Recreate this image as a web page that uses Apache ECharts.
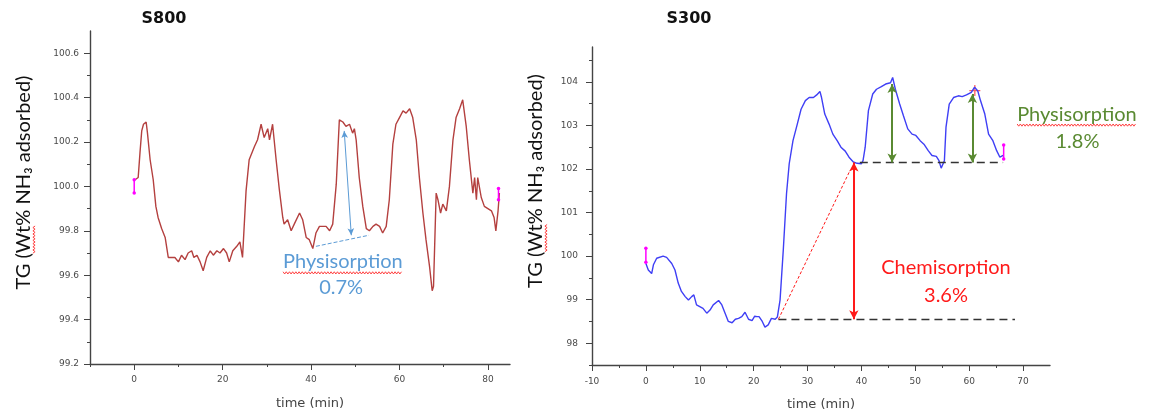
<!DOCTYPE html>
<html>
<head>
<meta charset="utf-8">
<script src="https://cdn.jsdelivr.net/npm/echarts@6/dist/echarts.min.js"></script>
<style>
  html, body { margin: 0; padding: 0; background: #fff; }
  #chart { width: 1156px; height: 419px; }
</style>
</head>
<body>
<div id="chart"></div>
<script>
// ---- data -----------------------------------------------------------------
// S800 weight trace: [time (min), TG (wt%)]
const s800Trace = [
  [0.2,100.03],[0.9,100.04],[1.3,100.15],[1.7,100.25],[2.1,100.28],[2.7,100.29],[3.0,100.24],
  [3.6,100.12],[4.3,100.03],[4.9,99.91],[5.4,99.86],[6.2,99.81],[7.0,99.77],[7.7,99.68],
  [8.5,99.68],[9.2,99.68],[10.0,99.66],[10.7,99.69],[11.5,99.67],[12.2,99.70],[13.0,99.71],
  [13.5,99.68],[14.2,99.69],[14.9,99.66],[15.6,99.62],[16.4,99.68],[17.2,99.71],[17.9,99.69],
  [18.7,99.71],[19.4,99.70],[20.2,99.72],[20.9,99.70],[21.5,99.66],[22.3,99.71],[23.2,99.73],
  [23.9,99.75],[24.5,99.68],[25.3,99.98],[26.0,100.12],[27.2,100.18],[27.9,100.21],[28.7,100.28],
  [29.4,100.22],[30.2,100.26],[30.6,100.21],[31.3,100.28],[32.1,100.12],[32.8,99.99],[33.6,99.86],
  [33.9,99.83],[34.7,99.85],[35.5,99.80],[36.2,99.83],[37.4,99.88],[38.1,99.85],[38.9,99.77],
  [39.6,99.76],[40.4,99.72],[41.1,99.79],[41.9,99.82],[42.6,99.82],[43.4,99.82],[44.2,99.80],
  [44.9,99.83],[45.7,100.01],[46.4,100.30],[47.2,100.29],[47.9,100.27],[48.7,100.28],[49.4,100.24],
  [49.8,100.26],[50.2,100.21],[50.9,100.04],[51.7,99.91],[52.5,99.81],[53.2,99.80],[54.0,99.82],
  [54.7,99.83],[55.5,99.82],[56.2,99.79],[57.0,99.82],[57.7,99.94],[58.5,100.19],[59.2,100.28],
  [60.0,100.31],[60.8,100.34],[61.5,100.33],[62.3,100.35],[63.0,100.31],[63.8,100.21],[64.5,100.04],
  [65.3,99.88],[66.0,99.76],[66.8,99.64],[67.4,99.53],[67.7,99.55],[68.3,99.97],[68.7,99.94],
  [69.3,99.88],[69.8,99.92],[70.6,99.89],[71.3,100.00],[72.1,100.21],[72.8,100.31],[73.6,100.35],
  [74.3,100.39],[75.1,100.27],[75.8,100.12],[76.6,99.97],[77.0,100.04],[77.4,99.94],[77.7,100.04],
  [78.5,99.95],[79.2,99.91],[80.0,99.90],[80.8,99.89],[81.4,99.86],[81.8,99.80],[82.3,99.89],
  [82.6,99.97]
];
// S800 start / end brackets
const s800Start = [[0, 100.03], [0, 99.97]];
const s800End = [[82.4, 99.99], [82.4, 99.94]];
// S800 physisorption arrow and its reference line
const s800PhysArrow = [[47.5, 100.25], [49.1, 99.78]];
const s800PhysBase = [[41.1, 99.73], [53.1, 99.78]];

// S300 weight trace: [time (min), TG (wt%)]
const s300Trace = [
  [0.0,99.83],[0.45,99.68],[1.07,99.60],[1.4,99.80],[2.0,99.95],[3.2,100.00],[3.85,99.97],
  [4.8,99.83],[5.4,99.68],[6.0,99.38],[6.6,99.19],[7.3,99.07],[7.9,98.99],[8.5,99.07],[8.9,99.11],
  [9.4,98.88],[10.0,98.84],[10.6,98.80],[11.3,98.69],[11.9,98.76],[12.5,98.88],[13.5,98.98],
  [14.1,98.88],[14.7,98.69],[15.3,98.50],[16.0,98.47],[16.6,98.55],[17.2,98.57],[17.8,98.61],
  [18.4,98.71],[19.05,98.55],[19.7,98.52],[20.2,98.62],[20.6,98.61],[21.0,98.61],[21.6,98.50],
  [22.1,98.37],[22.7,98.42],[23.3,98.57],[24.0,98.55],[24.4,98.60],[24.9,98.99],[25.5,100.14],
  [26.1,101.43],[26.6,102.12],[27.3,102.65],[28.1,103.03],[28.8,103.37],[29.6,103.57],[30.3,103.64],
  [31.1,103.64],[31.7,103.70],[32.3,103.78],[32.6,103.64],[33.2,103.26],[34.0,103.03],[34.7,102.80],
  [35.5,102.65],[36.2,102.50],[37.0,102.41],[37.7,102.27],[38.5,102.16],[39.2,102.13],[40.0,102.12],
  [40.3,102.19],[40.7,102.50],[41.3,103.34],[42.1,103.72],[42.8,103.83],[43.7,103.89],[44.5,103.95],
  [45.4,103.98],[45.8,104.10],[46.3,103.83],[47.1,103.49],[47.8,103.22],[48.6,102.92],[49.4,102.80],
  [50.1,102.77],[50.9,102.65],[51.6,102.57],[52.4,102.42],[53.1,102.31],[53.9,102.29],[54.4,102.19],
  [54.8,102.02],[55.4,102.19],[55.7,102.96],[56.3,103.49],[57.1,103.64],[58.0,103.68],[58.7,103.66],
  [59.5,103.70],[60.4,103.76],[61.0,103.88],[61.6,103.79],[62.1,103.57],[62.9,103.26],[63.6,102.80],
  [64.4,102.65],[65.1,102.42],[65.7,102.27],[66.3,102.31]
];
const s300Start = [[0, 100.18], [0, 99.86]];
const s300End = [[66.4, 102.55], [66.4, 102.23]];
const s300Cursor = [[61.05, 103.8]];

// S300 uptake levels (wt%)
const s300Baseline = 98.55;
const s300ChemGain = 3.6;
const s300PhysGain = 1.8;
const s300SecondPeak = 103.72;
// times where the uptake arrows are drawn (min)
const s300ChemTime = 38.6;
const s300PhysTimes = [45.7, 60.6];
const s300RampStart = 24.6;
const s300RampEnd = 37.9;
const s300PlateauSpan = [39.7, 66.3];
const s300BaseSpan = [24.6, 68.5];

// tick labels
const s800XTicks = [0, 20, 40, 60, 80];
const s800YTicks = [99.2, 99.4, 99.6, 99.8, 100.0, 100.2, 100.4, 100.6];
const s300XTicks = [-10, 0, 10, 20, 30, 40, 50, 60, 70];
const s300YTicks = [98, 99, 100, 101, 102, 103, 104];

// ---- styling ----------------------------------------------------------------
const axisColor = '#444';
const tickText = { fontFamily: 'DejaVu Sans', fontSize: 9, color: '#4a4a4a' };
const noteFont = 'Lato';
const blue = '#5b9bd5', green = '#5a8a32', red = '#ff1a1a';

function isTick(list, v) { return list.some(t => Math.abs(t - v) < 1e-6); }

// axis with short ticks at every step and labels at the listed values
function minorAxis(grid, pos, min, max, step, ticks, margin, digits, extra) {
  return Object.assign({
    type: 'value', gridIndex: grid, position: pos, min: min, max: max, interval: step,
    splitLine: { show: false },
    axisLine: { show: true, onZero: false, lineStyle: { color: axisColor, width: 1.4 } },
    axisTick: { show: true, length: 3, lineStyle: { color: axisColor, width: 1 } },
    axisLabel: Object.assign({ margin: margin, showMaxLabel: false,
      formatter: v => isTick(ticks, v) ? v.toFixed(digits) : '' }, tickText)
  }, extra || {});
}
// overlay axis on the same side drawing the longer ticks at the labelled values
function majorAxis(grid, pos, min, max, ticks) {
  return {
    type: 'value', gridIndex: grid, position: pos, offset: 0, min: min, max: max,
    splitLine: { show: false },
    axisLine: { show: false, onZero: false },
    axisTick: { show: true, length: 6, customValues: ticks, lineStyle: { color: axisColor, width: 1 } },
    axisLabel: { show: false }
  };
}
const xName = (shift) => ({
  name: 'time (min)', nameLocation: 'middle', nameGap: 33,
  nameTextStyle: { fontFamily: 'DejaVu Sans', fontSize: 13, color: '#444', padding: [0, 0, 0, shift] }
});

function bracket(data, x, y) {
  return {
    type: 'line', xAxisIndex: x, yAxisIndex: y, data: data, silent: true,
    symbol: 'circle', symbolSize: 3.5, showSymbol: true,
    itemStyle: { color: '#ff00ff' }, lineStyle: { color: '#ff00ff', width: 1.5 }
  };
}
function lines(x, y, segments, style, symbols, symbolSize) {
  return {
    type: 'line', xAxisIndex: x, yAxisIndex: y, data: [], silent: true,
    markLine: {
      silent: true, animation: false,
      symbol: symbols, symbolSize: symbolSize,
      label: { show: false },
      lineStyle: style,
      emphasis: { disabled: true },
      data: segments.map(s => [{ coord: s[0] }, { coord: s[1] }])
    }
  };
}

const chemTop = s300Baseline + s300ChemGain;
const physTop = chemTop + s300PhysGain;

const option = {
  backgroundColor: '#fff',
  animation: false,
  grid: [
    { left: 90, top: 31, width: 420, height: 333 },
    { left: 592, top: 47, width: 458, height: 318 }
  ],
  xAxis: [
    minorAxis(0, 'bottom', -10, 85, 10, s800XTicks, 11, 0, xName(20)),
    majorAxis(0, 'bottom', -10, 85, s800XTicks),
    minorAxis(1, 'bottom', -10, 75, 5, s300XTicks, 12, 0, xName(0)),
    majorAxis(1, 'bottom', -10, 75, s300XTicks)
  ],
  yAxis: [
    minorAxis(0, 'left', 99.2, 100.7, 0.1, s800YTicks, 11, 1),
    majorAxis(0, 'left', 99.2, 100.7, s800YTicks),
    minorAxis(1, 'left', 97.5, 104.8, 0.5, s300YTicks, 14, 0),
    majorAxis(1, 'left', 97.5, 104.8, s300YTicks)
  ],
  series: [
    {
      type: 'line', name: 'S800', xAxisIndex: 0, yAxisIndex: 0, data: s800Trace,
      showSymbol: false, silent: true,
      lineStyle: { color: '#b4403f', width: 1.4 }
    },
    bracket(s800Start, 0, 0),
    bracket(s800End, 0, 0),
    lines(0, 0, [s800PhysArrow], { color: blue, width: 1, type: 'solid' }, ['arrow', 'arrow'], [5, 7]),
    lines(0, 0, [s800PhysBase], { color: blue, width: 1, type: [4, 2] }, ['none', 'none'], 0),
    {
      type: 'line', name: 'S300', xAxisIndex: 2, yAxisIndex: 2, data: s300Trace,
      showSymbol: false, silent: true,
      lineStyle: { color: '#3f3ff5', width: 1.4 }
    },
    bracket(s300Start, 2, 2),
    bracket(s300End, 2, 2),
    {
      type: 'scatter', xAxisIndex: 2, yAxisIndex: 2, data: s300Cursor, silent: true,
      symbol: 'path://M0,4.4H10V5.6H0Z M4.4,0H5.6V10H4.4Z', symbolSize: 11,
      itemStyle: { color: '#ff3b3b' }
    },
    // plateau and baseline levels
    lines(2, 2, [
      [[s300PlateauSpan[0], chemTop], [s300PlateauSpan[1], chemTop]],
      [[s300BaseSpan[0], s300Baseline], [s300BaseSpan[1], s300Baseline]]
    ], { color: '#333', width: 1.4, type: [8, 5] }, ['none', 'none'], 0),
    // ramp guide
    lines(2, 2, [[[s300RampStart, s300Baseline], [s300RampEnd, chemTop - 0.18]]],
      { color: red, width: 1, type: [3, 2] }, ['none', 'none'], 0),
    // chemisorption arrow
    lines(2, 2, [[[s300ChemTime, chemTop], [s300ChemTime, s300Baseline]]],
      { color: red, width: 2, type: 'solid' }, ['arrow', 'arrow'], [7, 9]),
    // physisorption arrows
    lines(2, 2, [
      [[s300PhysTimes[0], physTop], [s300PhysTimes[0], chemTop]],
      [[s300PhysTimes[1], s300SecondPeak], [s300PhysTimes[1], chemTop]]
    ], { color: green, width: 2, type: 'solid' }, ['arrow', 'arrow'], [7, 9])
  ]
};

const chart = echarts.init(document.getElementById('chart'), null, { renderer: 'canvas' });
chart.setOption(option);

// ---- text overlays ---------------------------------------------------------
const measure = document.createElement('canvas').getContext('2d');
function textWidth(text, font) { measure.font = font; return measure.measureText(text).width; }

// red spell-check style wave between two points
function wave(x0, y0, x1, y1) {
  const len = Math.hypot(x1 - x0, y1 - y0);
  const ux = (x1 - x0) / len, uy = (y1 - y0) / len;
  const pts = [];
  const step = 1.6, amp = 1.1;
  for (let i = 0, d = 0; d <= len; i++, d += step) {
    const s = (i % 2 === 0 ? -amp : amp);
    pts.push([x0 + ux * d - uy * s, y0 + uy * d + ux * s]);
  }
  return { type: 'polyline', silent: true, shape: { points: pts },
    style: { stroke: '#ff2a2a', lineWidth: 0.9, fill: null } };
}
function label(text, pos, size, color) {
  return { type: 'text', x: pos[0], y: pos[1], silent: true,
    style: { text: text, fill: color, align: 'center', verticalAlign: 'middle',
      font: 'normal ' + size + 'px ' + noteFont } };
}
function noteWithWave(text, pos, size, color) {
  const font = 'normal ' + size + 'px ' + noteFont;
  const w = textWidth(text, font);
  const y = pos[1] + size * 0.55;
  return [label(text, pos, size, color), wave(pos[0] - w / 2, y, pos[0] + w / 2, y)];
}

const px0 = p => chart.convertToPixel({ gridIndex: 0 }, p);
const px1 = p => chart.convertToPixel({ gridIndex: 1 }, p);

// annotation anchors (data units)
const graphics = [];
graphics.push(...noteWithWave('Physisorption', px0([47.2, 99.66]), 20, blue));
graphics.push(label('0.7%', px0([46.8, 99.545]), 20, blue));
graphics.push(...noteWithWave('Physisorption', px1([80.0, 103.26]), 20, green));
graphics.push(label('1.8%', px1([80.1, 102.62]), 20, green));
graphics.push(label('Chemisorption', px1([55.7, 99.74]), 20, red));
graphics.push(label('3.6%', px1([55.7, 99.10]), 20, red));

// panel titles
graphics.push({ type: 'text', x: 164, y: 19, silent: true,
  style: { text: 'S800', fill: '#111', align: 'center', verticalAlign: 'middle', font: 'bold 16px "DejaVu Sans"' } });
graphics.push({ type: 'text', x: 689, y: 19, silent: true,
  style: { text: 'S300', fill: '#111', align: 'center', verticalAlign: 'middle', font: 'bold 16px "DejaVu Sans"' } });

// vertical axis titles, with the wave under "Wt"
const yTitle = 'TG (Wt% NH\u2083 adsorbed)';
const yFont = 'normal 20px ' + noteFont;
[[24, 182.5], [536, 181]].forEach(c => {
  graphics.push({ type: 'text', x: c[0], y: c[1], rotation: Math.PI / 2, silent: true,
    style: { text: yTitle, fill: '#111', align: 'center', verticalAlign: 'middle', font: yFont } });
  const total = textWidth(yTitle, yFont);
  const before = textWidth('TG (', yFont);
  const wt = textWidth('Wt', yFont);
  const bottom = c[1] + total / 2;
  const x = c[0] + 10;
  graphics.push(wave(x, bottom - before, x, bottom - before - wt));
});

chart.setOption({ graphic: graphics });
</script>
</body>
</html>
